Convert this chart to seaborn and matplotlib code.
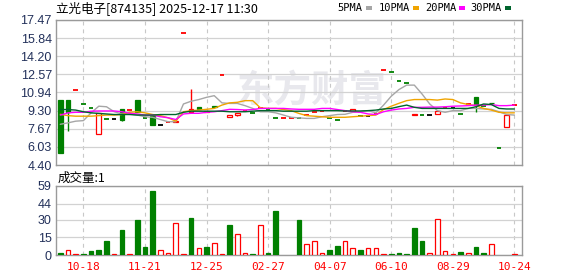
import numpy as np
import pandas as pd
import matplotlib
matplotlib.use("Agg")
import matplotlib.pyplot as plt
from matplotlib.patches import Rectangle
import seaborn as sns

# ---------------- data ----------------
title = "立光电子[874135] 2025-12-17 11:30"
opens = [10.26, 10.26, 11.13, 9.87, 9.51, 7.17, 8.52, 8.52, 9.45, 9.33,
         10.26, 8.61, 8.85, 8.00, 8.30, 8.30, 16.30, 9.20, 9.60, 9.20,
         9.70, 12.48, 8.75, 8.95, 9.30, 9.09, 9.51, 9.40, 8.61, 8.62,
         8.63, 8.60, 8.90, 9.20, 9.30, 8.61, 8.50, 9.27, 9.27, 8.85,
         8.85, 9.00, 12.96, 12.75, 11.93, 11.76, 8.88, 8.95, 8.95, 9.03,
         9.51, 9.51, 8.97, 9.87, 10.53, 9.72, 10.00, 5.91, 7.80, 9.78]
closes = [5.51, 9.15, 11.13, 9.87, 9.51, 9.06, 8.52, 8.52, 8.48, 9.33,
          9.15, 8.61, 8.00, 8.00, 8.30, 8.40, 16.30, 9.42, 9.45, 9.27,
          9.60, 12.48, 8.90, 9.10, 9.30, 9.09, 9.51, 9.40, 8.61, 8.62,
          8.63, 8.60, 8.90, 9.20, 9.30, 8.61, 8.50, 9.27, 9.45, 8.85,
          8.85, 9.00, 12.96, 12.75, 11.93, 11.76, 8.97, 8.95, 8.95, 9.24,
          9.51, 9.51, 8.97, 9.87, 9.81, 9.72, 9.96, 5.91, 8.91, 9.78]
highs = [10.26, 10.26, 11.13, 9.87, 9.51, 9.06, 8.52, 8.52, 9.45, 9.33,
         10.26, 8.61, 8.85, 8.00, 8.30, 8.40, 16.30, 11.25, 9.60, 9.27,
         9.70, 12.48, 8.90, 9.10, 9.30, 9.09, 9.51, 9.40, 8.61, 8.62,
         8.63, 8.60, 8.90, 9.20, 9.30, 8.61, 8.50, 9.27, 9.45, 8.85,
         8.85, 9.00, 12.96, 12.75, 11.93, 11.76, 8.97, 8.95, 8.95, 9.24,
         9.51, 9.51, 8.97, 9.87, 10.53, 9.72, 10.00, 5.91, 8.91, 9.78]
lows = [5.51, 7.46, 11.13, 9.87, 9.51, 7.17, 8.52, 8.52, 8.40, 9.33,
        9.15, 8.61, 8.00, 8.00, 8.30, 8.30, 16.30, 9.20, 9.45, 9.20,
        9.60, 12.48, 8.75, 8.85, 9.30, 9.09, 9.51, 9.40, 8.61, 8.62,
        8.63, 8.60, 8.90, 9.20, 9.30, 8.61, 8.50, 9.27, 9.27, 8.85,
        8.85, 9.00, 12.96, 12.75, 11.93, 11.76, 8.88, 8.95, 8.95, 9.03,
        9.51, 9.51, 8.97, 9.87, 9.15, 9.72, 9.96, 5.91, 7.80, 9.78]
volumes = [2, 4, 1, 1, 3, 4, 12, 1, 21, 1,
           30, 7, 55, 4, 2, 27, 1, 32, 6, 7,
           10, 1, 26, 18, 2, 1, 26, 2, 38, 0,
           0, 30, 9.5, 12, 2, 4, 8, 12, 6, 4,
           6, 6, 1, 1, 2, 1, 23, 12, 2, 31,
           3.5, 1, 2.6, 2, 7, 2, 9, 0, 0, 1]
ma5 = [8.07, 8.20, 8.35, 8.40, 9.10, 9.70, 9.65, 9.20, 9.00, 9.00,
       8.90, 8.75, 8.70, 8.50, 8.30, 8.30, 9.90, 10.15, 10.30, 10.50,
       10.65, 10.00, 9.95, 9.95, 9.75, 9.50, 9.20, 9.20, 9.10, 8.90,
       8.70, 8.65, 8.60, 8.60, 8.75, 8.85, 8.95, 8.97, 9.15, 9.20,
       9.30, 9.10, 9.80, 10.60, 11.20, 11.60, 11.60, 10.80, 9.90, 9.30,
       9.15, 9.30, 9.30, 9.50, 9.50, 9.45, 9.42, 9.20, 8.95, 8.90]
ma10 = [8.97, 8.85, 8.80, 8.80, 8.80, 8.85, 8.90, 8.90, 8.95, 9.15,
        9.20, 9.10, 8.95, 8.85, 8.66, 8.35, 9.20, 9.30, 9.35, 9.42,
        9.50, 9.80, 10.00, 10.05, 10.20, 10.20, 9.55, 9.50, 9.50, 9.40,
        9.30, 9.05, 8.85, 8.80, 8.75, 8.70, 8.70, 8.70, 8.75, 8.80,
        8.85, 8.90, 9.40, 9.70, 9.96, 10.20, 10.30, 10.30, 10.30, 10.25,
        10.35, 10.30, 10.00, 9.85, 9.75, 9.50, 9.35, 9.15, 9.10, 9.10]
ma20 = [8.90, 9.10, 9.15, 9.15, 9.25, 9.27, 9.27, 9.27, 9.20, 9.06,
        9.00, 8.90, 8.90, 8.75, 8.66, 8.50, 9.00, 9.06, 9.06, 9.15,
        9.20, 9.30, 9.42, 9.40, 9.36, 9.40, 9.50, 9.50, 9.50, 9.50,
        9.45, 9.42, 9.42, 9.42, 9.50, 9.50, 9.40, 9.30, 9.20, 9.15,
        9.00, 8.95, 9.20, 9.35, 9.45, 9.50, 9.60, 9.60, 9.62, 9.62,
        9.65, 9.70, 9.72, 9.75, 9.80, 9.80, 9.85, 9.75, 9.75, 9.80]
ma30 = [9.40, 9.40, 9.35, 9.20, 9.10, 9.05, 9.00, 8.95, 8.95, 8.95,
        8.90, 8.90, 8.90, 8.95, 8.95, 8.95, 9.15, 9.25, 9.25, 9.25,
        9.25, 9.25, 9.20, 9.20, 9.20, 9.25, 9.30, 9.30, 9.30, 9.25,
        9.25, 9.25, 9.25, 9.30, 9.30, 9.30, 9.30, 9.27, 9.27, 9.27,
        9.30, 9.35, 9.45, 9.50, 9.66, 9.80, 9.60, 9.50, 9.50, 9.50,
        9.50, 9.50, 9.50, 9.50, 9.65, 9.90, 9.85, 9.50, 9.45, 9.45]
ma_names = ["5PMA", "10PMA", "20PMA", "30PMA"]
ma_colors = {"5PMA": "#a6a6a6", "10PMA": "#f0a400", "20PMA": "#ff00ff", "30PMA": "#00642d"}
price_ticks = [4.40, 6.03, 7.67, 9.30, 10.94, 12.57, 14.20, 15.84, 17.47]
price_tick_labels = ["4.40", "6.03", "7.67", "9.30", "10.94", "12.57", "14.20", "15.84", "17.47"]
vol_ticks = [0, 15, 30, 44, 59]
date_tick_pos = [3, 11, 19, 27, 35, 43, 51, 59]
date_tick_labels = ["10-18", "11-21", "12-25", "02-27", "04-07", "06-10", "08-29", "10-24"]
vol_label = "成交量:1"
watermark = "东方财富"

# ---------------- style ----------------
sns.set_style("white")
plt.rcParams["font.family"] = ["Liberation Sans", "Noto Sans CJK SC", "DejaVu Sans"]

RED, GREEN, BLACK = "#ff0000", "#008000", "#000000"
FRAME = "#9a9a9a"
GRID = "#d2d2d2"
VGRID = "#c8c8c8"
TICKC = "#22305a"

W, H = 578, 276
fig = plt.figure(figsize=(W / 100, H / 100), dpi=100)
ax = fig.add_axes([56 / W, 1 - 165 / H, 466 / W, 145 / H])
axv = fig.add_axes([56 / W, 1 - 255 / H, 466 / W, 69 / H])

n = len(closes)
idx = np.arange(n)
xlim = (-0.56, n - 0.01)

# colors derived from data
cand_col = []
vol_col = []
for i in range(n):
    prev = closes[i - 1] if i > 0 else opens[i]
    if closes[i] > opens[i]:
        cand_col.append(RED)
    elif closes[i] < opens[i]:
        cand_col.append(GREEN)
    else:
        cand_col.append(RED if closes[i] > prev else (GREEN if closes[i] < prev else BLACK))
    vol_col.append(RED if closes[i] >= prev else GREEN)

# ---------------- price panel ----------------
ax.text(0.5, 0.5, watermark, transform=fig.transFigure, fontsize=27,
        family=["Noto Sans CJK SC"], fontweight="bold", color="#e8e8ed",
        ha="center", va="center", zorder=0)
# place watermark inside the price panel region
ax.texts[-1].set_position((312 / W, 1 - 91 / H))

bw = 0.6
for i in range(n):
    o, c, h, l = opens[i], closes[i], highs[i], lows[i]
    col = cand_col[i]
    top, bot = max(o, c), min(o, c)
    if h > top:
        ax.vlines(i, top, h, color=col, lw=1.0, zorder=3)
    if l < bot:
        ax.vlines(i, l, bot, color=col, lw=1.0, zorder=3)
    if o == c:
        ax.hlines(c, i - bw / 2, i + bw / 2, color=col, lw=1.3, zorder=3)
    else:
        face = "white" if col == RED else col
        ax.bar(i, top - bot, bottom=bot, width=bw, facecolor=face,
               edgecolor=col, lw=0.9, zorder=3)

ma_df = pd.DataFrame({
    "idx": np.concatenate([idx] * 4),
    "value": ma5 + ma10 + ma20 + ma30,
    "line": np.repeat(ma_names, n),
})
sns.lineplot(data=ma_df, x="idx", y="value", hue="line", palette=ma_colors,
             hue_order=ma_names, estimator=None, legend=False, lw=1.0,
             ax=ax, zorder=4)

ax.set_xlim(*xlim)
ax.set_ylim(price_ticks[0], price_ticks[-1])
ax.set_yticks(price_ticks)
ax.set_yticklabels(price_tick_labels)
ax.set_xticks(date_tick_pos)
ax.set_xticklabels([])
ax.set_xlabel("")
ax.set_ylabel("")

# ---------------- volume panel ----------------
mask = [v > 0 for v in volumes]
vx = [i for i in idx if mask[i]]
vv = [volumes[i] for i in idx if mask[i]]
vc = [vol_col[i] for i in idx if mask[i]]
axv.bar(vx, vv, width=bw, facecolor=["white" if c == RED else c for c in vc],
        edgecolor=vc, lw=0.9, zorder=3)
axv.set_xlim(*xlim)
axv.set_ylim(vol_ticks[0], vol_ticks[-1])
axv.set_yticks(vol_ticks)
axv.set_yticklabels([str(v) for v in vol_ticks])
axv.set_xticks(date_tick_pos)
axv.set_xticklabels(date_tick_labels, color=RED, family=["DejaVu Sans Mono"], fontsize=8)

for a in (ax, axv):
    a.set_axisbelow(True)
    a.grid(axis="y", color=GRID, lw=0.9, ls="-")
    a.grid(axis="x", color=VGRID, lw=0.8, ls=(0, (3.5, 3.5)))
    for s in a.spines.values():
        s.set_visible(True)
        s.set_color(FRAME)
        s.set_linewidth(1.0)
    a.tick_params(axis="both", length=0, pad=3)
    for lab in a.get_yticklabels():
        lab.set_color(TICKC)
        lab.set_fontsize(9)
axv.tick_params(axis="x", pad=5)

# ---------------- texts ----------------
fig.text(56 / W, 1 - 8 / H, title, fontsize=9, family=["Noto Sans CJK SC"],
         color="black", ha="left", va="center")
fig.text(58 / W, 1 - 178 / H, vol_label, fontsize=9, family=["Noto Sans CJK SC"],
         color="black", ha="left", va="center")

leg_right = [362.5, 410, 456, 502]
for name, xr in zip(ma_names, leg_right):
    fig.text(xr / W, 1 - 8 / H, name, fontsize=7.5, family=["DejaVu Sans Mono"],
             color="black", ha="right", va="center")
    fig.patches.append(Rectangle(((xr + 3) / W, 1 - 9.5 / H), 6 / W, 3 / H,
                                 transform=fig.transFigure,
                                 facecolor=ma_colors[name], edgecolor="none"))

fig.savefig("out.png", dpi=100)
